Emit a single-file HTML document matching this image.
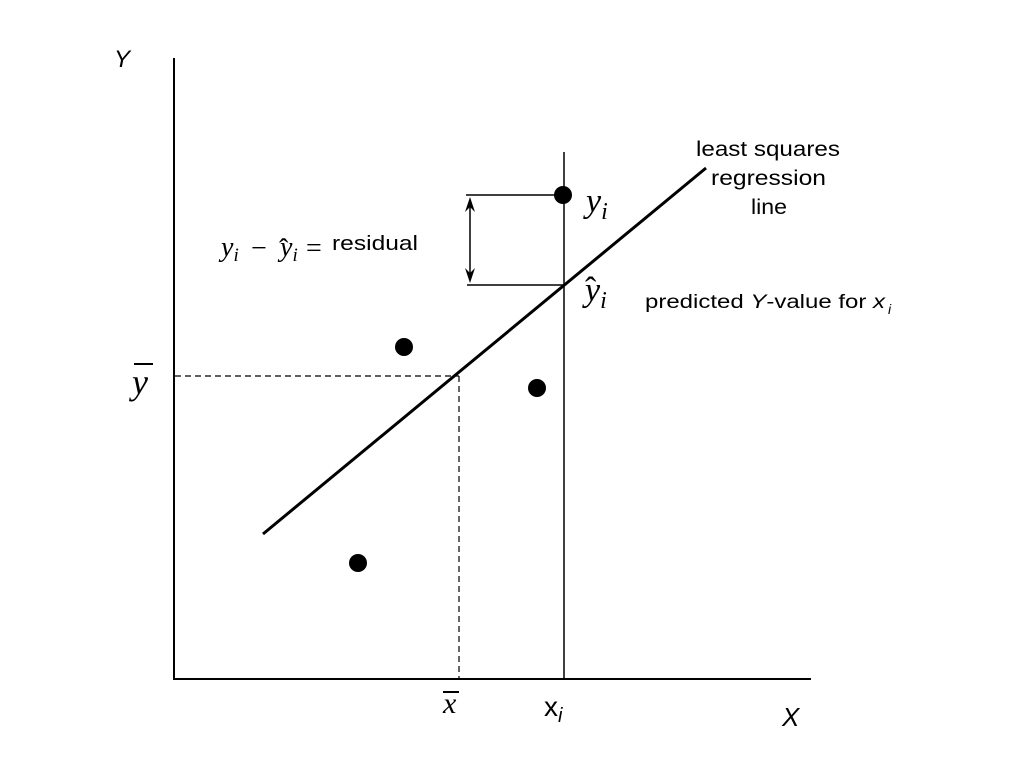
<!DOCTYPE html>
<html><head><style>
html,body{margin:0;padding:0;background:#fff;width:1024px;height:768px;overflow:hidden}
</style></head><body>
<svg width="1024" height="768" xmlns="http://www.w3.org/2000/svg">
<g stroke="#000" fill="none">
<line x1="174" y1="58" x2="174" y2="680" stroke-width="2"/>
<line x1="173" y1="679" x2="811" y2="679" stroke-width="2"/>
<line x1="564" y1="152" x2="564" y2="679" stroke-width="1.5"/>
<line x1="263" y1="534" x2="706" y2="168" stroke-width="3"/>
<line x1="175" y1="376" x2="459" y2="376" stroke-width="1.2" stroke-dasharray="6,4"/>
<line x1="459" y1="376" x2="459" y2="679" stroke-width="1.2" stroke-dasharray="6,4"/>
<line x1="466" y1="195" x2="563" y2="195" stroke-width="1.5"/>
<line x1="467" y1="285" x2="564" y2="285" stroke-width="1.5"/>
<line x1="470" y1="203" x2="470" y2="277" stroke-width="1.5"/>
</g>
<polygon points="470,197 465,212 470,207 475,212" fill="#000"/>
<polygon points="470,283 465,268 470,273 475,268" fill="#000"/>
<g fill="#000">
<circle cx="563" cy="195" r="9"/>
<circle cx="404" cy="347" r="9"/>
<circle cx="537" cy="388" r="9"/>
<circle cx="358" cy="563" r="9"/>
</g>
<g font-family="Liberation Sans, sans-serif" fill="#000">
<text x="114" y="67" font-size="24" font-style="italic">Y</text>
<text x="696" y="156" font-size="21" textLength="144" lengthAdjust="spacingAndGlyphs">least squares</text>
<text x="711" y="185" font-size="21" textLength="115" lengthAdjust="spacingAndGlyphs">regression</text>
<text x="751" y="214" font-size="21" textLength="36" lengthAdjust="spacingAndGlyphs">line</text>
<text x="645" y="308" font-size="19" textLength="240" lengthAdjust="spacingAndGlyphs">predicted <tspan font-style="italic">Y</tspan>-value for <tspan font-style="italic">x</tspan></text>
<text x="888" y="314" font-size="14" font-style="italic">i</text>
<text x="332" y="250" font-size="20" textLength="86" lengthAdjust="spacingAndGlyphs">residual</text>
<text x="544" y="716" font-size="28">x<tspan font-size="20" dy="6" font-style="italic">i</tspan></text>
<text x="782" y="726" font-size="26" font-style="italic">X</text>
</g>
<g font-family="Liberation Serif, serif" font-style="italic" fill="#000">
<text x="586" y="212" font-size="34">y<tspan font-size="24" dy="7">i</tspan></text>
<text x="585" y="301" font-size="34">y<tspan font-size="24" dy="7">i</tspan></text>
<text x="585" y="300" font-size="34" font-style="normal">ˆ</text>
<text x="221" y="256" font-size="28">y<tspan font-size="19" dy="5">i</tspan></text>
<text x="251" y="257" font-size="28" font-style="normal">−</text>
<text x="280" y="256" font-size="28">y<tspan font-size="19" dy="5">i</tspan></text>
<text x="279" y="258" font-size="28" font-style="normal">ˆ</text>
<text x="306" y="257" font-size="28" font-style="normal">=</text>
<text x="132" y="394" font-size="36">y</text>
<line x1="134" y1="364" x2="153" y2="364" stroke="#000" stroke-width="2"/>
<text x="443" y="713" font-size="30">x</text>
<line x1="443" y1="692" x2="459" y2="692" stroke="#000" stroke-width="2"/>
</g>
</svg>
</body></html>
